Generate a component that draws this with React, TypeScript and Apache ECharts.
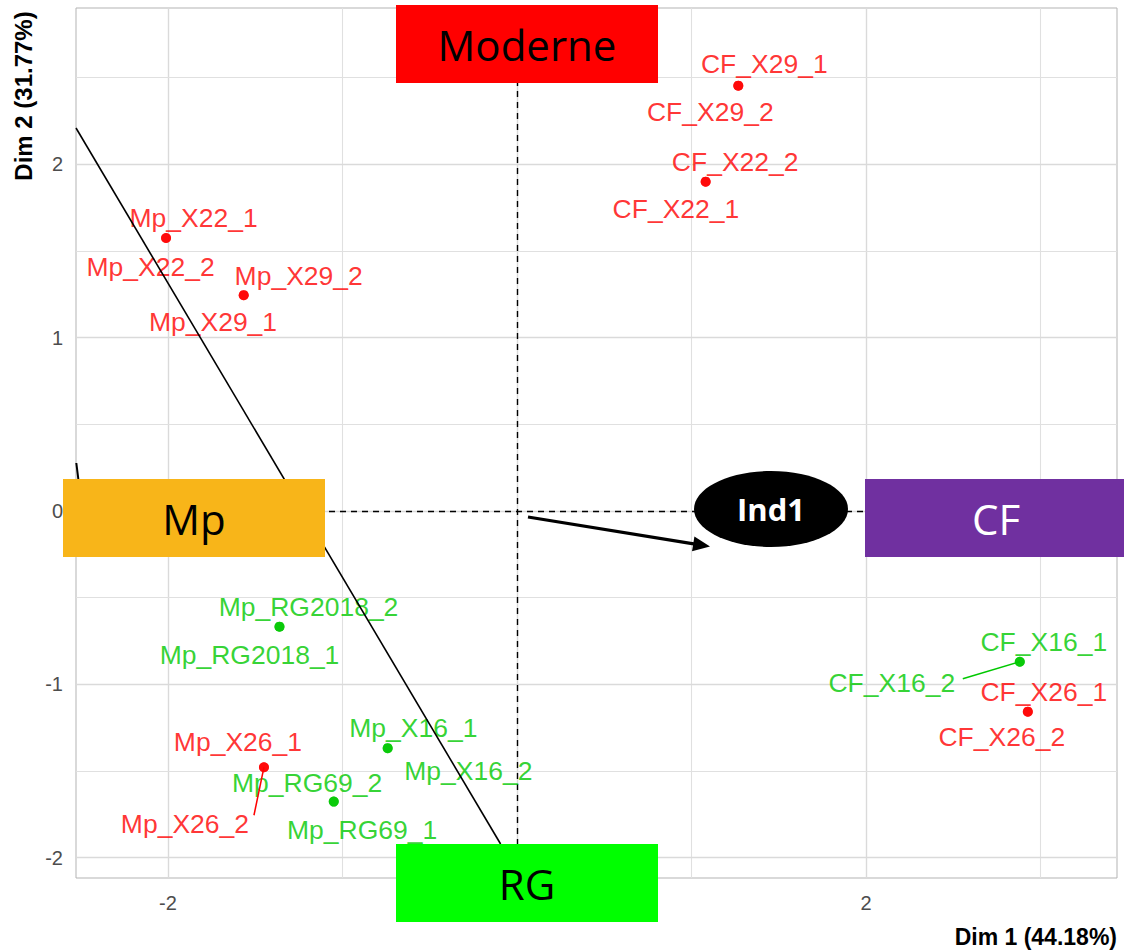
import React, { useEffect, useRef } from "react";
import * as echarts from "echarts";

// ---- data ----
const individuals = [
  "Mp_X22_1", "Mp_X22_2", "Mp_X29_2", "Mp_X29_1",
  "CF_X29_1", "CF_X29_2", "CF_X22_2", "CF_X22_1",
  "Mp_RG2018_2", "Mp_RG2018_1", "Mp_X16_1", "Mp_X16_2",
  "Mp_X26_1", "Mp_X26_2", "Mp_RG69_2", "Mp_RG69_1",
  "CF_X16_1", "CF_X16_2", "CF_X26_1", "CF_X26_2",
];
const dim1 = [
  -2.011, -2.011, -1.566, -1.566,
  1.268, 1.268, 1.081, 1.081,
  -1.361, -1.361, -0.741, -0.741,
  -1.45, -1.45, -1.05, -1.05,
  2.881, 2.881, 2.927, 2.927,
];
const dim2 = [
  1.575, 1.575, 1.245, 1.245,
  2.454, 2.454, 1.9, 1.9,
  -0.668, -0.668, -1.369, -1.369,
  -1.479, -1.479, -1.677, -1.677,
  -0.87, -0.87, -1.158, -1.158,
];
const groups = [
  "Moderne", "Moderne", "Moderne", "Moderne",
  "Moderne", "Moderne", "Moderne", "Moderne",
  "RG", "RG", "RG", "RG",
  "Moderne", "Moderne", "RG", "RG",
  "RG", "RG", "Moderne", "Moderne",
];
const xTicks = [-2, 2];
const yTicks = [-2, -1, 0, 1, 2];
const xMajorGrid = [-2, 0, 2];
const xMinorGrid = [-1, 1, 3];
const yMajorGrid = [-2, -1, 0, 1, 2];
const yMinorGrid = [-1.5, -0.5, 0.5, 1.5, 2.5];
const xTitle = "Dim 1 (44.18%)";
const yTitle = "Dim 2 (31.77%)";

// ---- layout (pixels) ----
const labelOffsets: number[][] = [
  [27.5, -20], [-15.5, 29], [55, -19], [-30.7, 26.7],
  [26, -22], [-28, 26], [29.5, -20], [-29.7, 27.6],
  [29, -19.4], [-30, 28.3], [25.6, -20], [80.7, 22.4],
  [-26, -25.6], [-79, 57], [-26.7, -19], [28.3, 28.3],
  [24, -20], [-128, 21.6], [16, -20], [-26, 25.6],
];
const leaders: { name: string; end: number[] }[] = [
  { name: "Mp_X26_2", end: [-10, 48] },
  { name: "CF_X16_2", end: [-57, 17] },
];
const groupColors: Record<string, string> = { Moderne: "#ff0000", RG: "#00c800" };

export default function App() {
  const ref = useRef<HTMLDivElement>(null);
  useEffect(() => {
    const chart = echarts.init(ref.current!, null, { renderer: "svg" });
    const gridMarks = [
      ...xMajorGrid.map((v) => ({ xAxis: v, lineStyle: { color: "#dadada", width: 1.4, type: "solid" } })),
      ...xMinorGrid.map((v) => ({ xAxis: v, lineStyle: { color: "#e0e0e0", width: 1.1, type: "solid" } })),
      ...yMajorGrid.map((v) => ({ yAxis: v, lineStyle: { color: "#dadada", width: 1.4, type: "solid" } })),
      ...yMinorGrid.map((v) => ({ yAxis: v, lineStyle: { color: "#e0e0e0", width: 1.1, type: "solid" } })),
    ];
    const points = individuals.map((n, i) => ({
      name: n,
      value: [dim1[i], dim2[i]],
      itemStyle: { color: groupColors[groups[i]] },
      label: { color: groupColors[groups[i]], offset: labelOffsets[i] },
    }));
    chart.setOption({
      animation: false,
      grid: { left: 76, top: 8, right: 7, bottom: 74, show: true, borderColor: "#b3b3b3", borderWidth: 1, backgroundColor: "#fff" },
      xAxis: {
        type: "value", min: -2.527, max: 3.438,
        axisLine: { show: false }, splitLine: { show: false },
        axisTick: { show: true, customValues: xTicks, length: 4, lineStyle: { color: "#b3b3b3" } },
        axisLabel: { customValues: xTicks, color: "#4d4d4d", fontSize: 20, fontFamily: "Liberation Sans", margin: 15 },
      },
      yAxis: {
        type: "value", min: -2.118, max: 2.902,
        axisLine: { show: false }, splitLine: { show: false },
        axisTick: { show: true, customValues: yTicks, length: 4, lineStyle: { color: "#b3b3b3" } },
        axisLabel: { customValues: yTicks, color: "#4d4d4d", fontSize: 20, fontFamily: "Liberation Sans", margin: 13 },
      },
      series: [
        {
          type: "scatter", data: [], z: 1, silent: true,
          markLine: { silent: true, symbol: "none", label: { show: false }, data: gridMarks, z: 1 },
        },
        {
          type: "scatter", data: [], z: 2, silent: true,
          markLine: {
            silent: true, symbol: "none", label: { show: false }, z: 2,
            data: [{ xAxis: 0 }, { yAxis: 0 }],
            lineStyle: { color: "#000", width: 1.4, type: [6, 5] },
          },
        },
        {
          type: "scatter", z: 5, symbolSize: 10,
          data: points,
          label: {
            show: true, position: "inside", formatter: "{b}",
            fontSize: 26.5, fontFamily: "Liberation Sans", align: "center", verticalAlign: "middle",
          },
        },
      ],
    });

    const px = (i: number) => chart.convertToPixel({ gridIndex: 0 }, [dim1[i], dim2[i]]) as number[];
    const leaderEls = leaders.map((l, k) => {
      const i = individuals.indexOf(l.name);
      const p = px(i);
      const c = groupColors[groups[i]];
      return {
        type: "line", id: "leader" + k, z: 40,
        shape: { x1: p[0], y1: p[1], x2: p[0] + l.end[0], y2: p[1] + l.end[1] },
        style: { stroke: c, lineWidth: 1.5 },
      };
    });
    // arrow
    const a0 = [528, 517], a1 = [710, 546.5];
    const dx = a1[0] - a0[0], dy = a1[1] - a0[1];
    const len = Math.sqrt(dx * dx + dy * dy);
    const ux = dx / len, uy = dy / len;
    const hl = 17, hw = 7.5;
    const bx = a1[0] - ux * hl, by = a1[1] - uy * hl;
    const box = (id: string, x: number, y: number, w: number, h: number, fill: string, text: string, tc: string) => ({
      type: "group", id, z: 100,
      children: [
        { type: "rect", z: 100, shape: { x, y, width: w, height: h }, style: { fill } },
        {
          type: "text", z: 101, x: x + w / 2, y: y + h / 2,
          style: { text, fill: tc, font: "42px 'Open Sans'", align: "center", verticalAlign: "middle" },
        },
      ],
    });
    chart.setOption({
      graphic: [
        ...leaderEls,
        { type: "line", id: "bigline", z: 50, shape: { x1: 76, y1: 128, x2: 500.6, y2: 844 }, style: { stroke: "#000", lineWidth: 1.6 } },
        { type: "line", id: "tick", z: 50, shape: { x1: 76.3, y1: 463, x2: 78.3, y2: 479 }, style: { stroke: "#000", lineWidth: 2 } },
        box("moderne", 396, 5, 262, 78, "#ff0000", "Moderne", "#000"),
        box("rg", 396, 844, 262, 78, "#00ff00", "RG", "#000"),
        box("mp", 63, 479, 262, 78, "#f8b519", "Mp", "#000"),
        box("cf", 865, 479, 262, 78, "#7030a0", "CF", "#fff"),
        { type: "ellipse", id: "ell", z: 100, shape: { cx: 771, cy: 509, rx: 77, ry: 38 }, style: { fill: "#000" } },
        {
          type: "text", id: "ind1", z: 101, x: 771, y: 509,
          style: { text: "Ind1", fill: "#fff", font: "bold 31px 'Open Sans'", align: "center", verticalAlign: "middle" },
        },
        { type: "line", id: "arrowline", z: 100, shape: { x1: a0[0], y1: a0[1], x2: bx + ux * 2, y2: by + uy * 2 }, style: { stroke: "#000", lineWidth: 3.2 } },
        {
          type: "polygon", id: "arrowhead", z: 100,
          shape: { points: [[a1[0], a1[1]], [bx - uy * hw, by + ux * hw], [bx + uy * hw, by - ux * hw]] },
          style: { fill: "#000" },
        },
        {
          type: "text", id: "xtitle", z: 100, x: 1117, y: 937,
          style: { text: xTitle, fill: "#000", font: "bold 23px 'Liberation Sans'", align: "right", verticalAlign: "middle" },
        },
        {
          type: "text", id: "ytitle", z: 100, x: 23, y: 96, rotation: Math.PI / 2,
          style: { text: yTitle, fill: "#000", font: "bold 24px 'Liberation Sans'", align: "center", verticalAlign: "middle" },
        },
      ],
    });
    return () => chart.dispose();
  }, []);
  return <div ref={ref} style={{ position: "absolute", left: 0, top: 0, width: 1124, height: 952, background: "#fff" }} />;
}
